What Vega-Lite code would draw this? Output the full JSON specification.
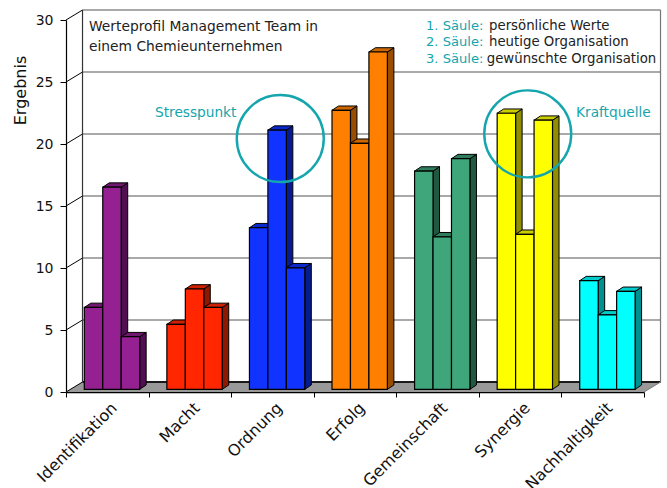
{
"$schema":"https://vega.github.io/schema/vega-lite/v6.json",
"width":578,"height":372,"autosize":"none",
"padding":{"left":66,"top":20,"right":23,"bottom":96},
"background":"white",
"config":{"view":{"stroke":null},"font":"DejaVu Sans","axis":{"grid":false}},
"datasets":{
"saeulen":[
{"kategorie":"Identifikation","saeule":1,"wert":6.6},{"kategorie":"Identifikation","saeule":2,"wert":16.3},{"kategorie":"Identifikation","saeule":3,"wert":4.24},
{"kategorie":"Macht","saeule":1,"wert":5.24},{"kategorie":"Macht","saeule":2,"wert":8.09},{"kategorie":"Macht","saeule":3,"wert":6.6},
{"kategorie":"Ordnung","saeule":1,"wert":13.03},{"kategorie":"Ordnung","saeule":2,"wert":20.9},{"kategorie":"Ordnung","saeule":3,"wert":9.8},
{"kategorie":"Erfolg","saeule":1,"wert":22.5},{"kategorie":"Erfolg","saeule":2,"wert":19.84},{"kategorie":"Erfolg","saeule":3,"wert":27.2},
{"kategorie":"Gemeinschaft","saeule":1,"wert":17.6},{"kategorie":"Gemeinschaft","saeule":2,"wert":12.3},{"kategorie":"Gemeinschaft","saeule":3,"wert":18.6},
{"kategorie":"Synergie","saeule":1,"wert":22.26},{"kategorie":"Synergie","saeule":2,"wert":12.5},{"kategorie":"Synergie","saeule":3,"wert":21.7},
{"kategorie":"Nachhaltigkeit","saeule":1,"wert":8.76},{"kategorie":"Nachhaltigkeit","saeule":2,"wert":6.0},{"kategorie":"Nachhaltigkeit","saeule":3,"wert":7.9}
],
"gitter":[{"g":0},{"g":5},{"g":10},{"g":15},{"g":20},{"g":25},{"g":30}],
"titel":[
{"x":0.279,"y":29.44,"t":"Werteprofil Management Team in"},
{"x":0.279,"y":27.82,"t":"einem Chemieunternehmen"}
],
"schwarz":[
{"x":5.123,"y":29.5,"t":"persönliche Werte"},
{"x":5.123,"y":28.2,"t":"heutige Organisation"},
{"x":5.095,"y":26.85,"t":"gewünschte Organisation"}
],
"tuerkis":[
{"x":4.36,"y":29.5,"t":"1. Säule:"},
{"x":4.36,"y":28.2,"t":"2. Säule:"},
{"x":4.36,"y":26.85,"t":"3. Säule:"}
],
"hinweise":[
{"x":1.078,"y":22.5,"t":"Stresspunkt"},
{"x":6.177,"y":22.5,"t":"Kraftquelle"}
],
"kreise":[{"x":2.595,"y":20.44},{"x":5.592,"y":20.82}]
},
"layer":[
{"data":{"values":[{"t":0},{"t":1}]},
 "transform":[{"calculate":"datum.t*0.2","as":"x0"},{"calculate":"7+datum.t*0.2","as":"x1"},{"calculate":"datum.t*0.806","as":"yy"}],
 "mark":{"type":"area","orient":"horizontal","fill":"#999999"},
 "encoding":{"y":{"field":"yy","type":"quantitative","scale":{"domain":[0,30]}},"x":{"field":"x0","type":"quantitative","scale":{"domain":[0,7],"nice":false,"zero":false}},"x2":{"field":"x1"}}},
{"data":{"name":"gitter"},
 "transform":[{"calculate":"datum.g+0.806","as":"h"},{"calculate":"0.2","as":"a"},{"calculate":"7.2","as":"b"}],
 "mark":{"type":"rule","stroke":"#555555","strokeWidth":1.2},
 "encoding":{"y":{"field":"h","type":"quantitative","scale":{"domain":[0,30]}},"x":{"field":"a","type":"quantitative","scale":{"domain":[0,7],"nice":false,"zero":false}},"x2":{"field":"b"}}},
{"data":{"values":[{"g":0}]},
 "transform":[{"calculate":"datum.g+0.806","as":"h"},{"calculate":"0.2","as":"a"},{"calculate":"7.2","as":"b"}],
 "mark":{"type":"rule","stroke":"#1a1a1a","strokeWidth":2},
 "encoding":{"y":{"field":"h","type":"quantitative","scale":{"domain":[0,30]}},"x":{"field":"a","type":"quantitative","scale":{"domain":[0,7],"nice":false,"zero":false}},"x2":{"field":"b"}}},
{"data":{"name":"gitter"},
 "transform":[{"calculate":"datum.g+0.806","as":"h"},{"calculate":"0","as":"a"},{"calculate":"0.2","as":"b"}],
 "mark":{"type":"rule","stroke":"#000000","strokeWidth":1},
 "encoding":{"y":{"field":"g","type":"quantitative","scale":{"domain":[0,30]}},"y2":{"field":"h"},"x":{"field":"a","type":"quantitative","scale":{"domain":[0,7],"nice":false,"zero":false}},"x2":{"field":"b"}}},
{"data":{"values":[{"a":0.2,"u":0.806,"o":30.806,"c":"l"},{"a":7.2,"u":0.806,"o":30.806,"c":"r"}]},
 "mark":{"type":"rule","strokeWidth":1.2},
 "encoding":{"y":{"field":"u","type":"quantitative","scale":{"domain":[0,30]}},"y2":{"field":"o"},"x":{"field":"a","type":"quantitative","scale":{"domain":[0,7],"nice":false,"zero":false}},"stroke":{"field":"c","type":"nominal","scale":{"domain":["l","r"],"range":["#333333","#777777"]},"legend":null}}},
{"data":{"values":[{"a":7,"b":7.2,"u":0,"o":0.806}]},
 "mark":{"type":"rule","stroke":"#777777","strokeWidth":1},
 "encoding":{"y":{"field":"u","type":"quantitative","scale":{"domain":[0,30]}},"y2":{"field":"o"},"x":{"field":"a","type":"quantitative","scale":{"domain":[0,7],"nice":false,"zero":false}},"x2":{"field":"b"}}},
{"data":{"name":"saeulen"},
 "transform":[
 {"calculate":"indexof(['Identifikation','Macht','Ordnung','Erfolg','Gemeinschaft','Synergie','Nachhaltigkeit'],datum.kategorie)+0.2216+(datum.saeule-1)*0.2235","as":"x0"},
 {"calculate":"datum.x0+0.2235","as":"x1"},
 {"calculate":"datum.kategorie+datum.saeule","as":"id"},
 {"calculate":"[0,1]","as":"t"},{"flatten":["t"]},
 {"calculate":"datum.x1+datum.t*0.0787","as":"sx"},
 {"calculate":"0.218+datum.wert+datum.t*0.347","as":"oben"},
 {"calculate":"0.218+datum.t*0.347","as":"unten"}],
 "mark":{"type":"area","orient":"vertical","stroke":"#000000","strokeWidth":1},
 "encoding":{"detail":{"field":"id"},"x":{"field":"sx","type":"quantitative","scale":{"domain":[0,7],"nice":false,"zero":false}},"y":{"field":"oben","type":"quantitative","scale":{"domain":[0,30]}},"y2":{"field":"unten"},
 "fill":{"field":"kategorie","type":"nominal","legend":null,"scale":{"domain":["Identifikation","Macht","Ordnung","Erfolg","Gemeinschaft","Synergie","Nachhaltigkeit"],"range":["#4f0f50","#8f1800","#071b90","#994d00","#1f5a40","#8f8f00","#009090"]}}}},
{"data":{"name":"saeulen"},
 "transform":[
 {"calculate":"indexof(['Identifikation','Macht','Ordnung','Erfolg','Gemeinschaft','Synergie','Nachhaltigkeit'],datum.kategorie)+0.2216+(datum.saeule-1)*0.2235","as":"x0"},
 {"calculate":"datum.kategorie+datum.saeule","as":"id"},
 {"calculate":"[0,1]","as":"t"},{"flatten":["t"]},
 {"calculate":"datum.x0+datum.t*0.0787","as":"lx"},
 {"calculate":"datum.lx+0.2235","as":"rx"},
 {"calculate":"0.218+datum.wert+datum.t*0.347","as":"oben"}],
 "mark":{"type":"area","orient":"horizontal","stroke":"#000000","strokeWidth":1},
 "encoding":{"detail":{"field":"id"},"y":{"field":"oben","type":"quantitative","scale":{"domain":[0,30]}},"x":{"field":"lx","type":"quantitative","scale":{"domain":[0,7],"nice":false,"zero":false}},"x2":{"field":"rx"},
 "fill":{"field":"kategorie","type":"nominal","legend":null,"scale":{"domain":["Identifikation","Macht","Ordnung","Erfolg","Gemeinschaft","Synergie","Nachhaltigkeit"],"range":["#701870","#cc2000","#0a28cc","#cc6600","#2f7d5d","#cccc00","#00cccc"]}}}},
{"data":{"name":"saeulen"},
 "transform":[
 {"calculate":"indexof(['Identifikation','Macht','Ordnung','Erfolg','Gemeinschaft','Synergie','Nachhaltigkeit'],datum.kategorie)+0.2216+(datum.saeule-1)*0.2235","as":"x0"},
 {"calculate":"datum.x0+0.2235","as":"x1"},
 {"calculate":"0.218+datum.wert","as":"oben"},
 {"calculate":"0.218","as":"unten"}],
 "mark":{"type":"rect","stroke":"#000000","strokeWidth":1.2},
 "encoding":{"x":{"field":"x0","type":"quantitative","scale":{"domain":[0,7],"nice":false,"zero":false},"axis":{"values":[0,1,2,3,4,5,6,7],"title":null,"grid":false,"domainColor":"#000000","domainWidth":1.5,"tickColor":"#000000","tickSize":5,"labelFontSize":16,"labelColor":"#111111","labelAngle":-45,"labelAlign":"right","labelBaseline":"middle","labelOffset":48,"labelPadding":8,"labelOverlap":false,"labelBound":false,"labelFlush":false,"labelExpr":"['Identifikation','Macht','Ordnung','Erfolg','Gemeinschaft','Synergie','Nachhaltigkeit',''][datum.value]"}},"x2":{"field":"x1"},
 "y":{"field":"oben","type":"quantitative","scale":{"domain":[0,30]},"axis":{"values":[0,5,10,15,20,25,30],"title":"Ergebnis","grid":false,"domainColor":"#000000","domainWidth":1.2,"tickColor":"#000000","tickSize":6,"labelFontSize":14,"labelColor":"#111111","labelPadding":7,"titleFontSize":16,"titleFontWeight":"normal","titleColor":"#111111","titleY":70,"titleX":-38}},"y2":{"field":"unten"},
 "fill":{"field":"kategorie","type":"nominal","legend":null,"scale":{"domain":["Identifikation","Macht","Ordnung","Erfolg","Gemeinschaft","Synergie","Nachhaltigkeit"],"range":["#942092","#ff2600","#1033ff","#ff7f00","#3fa67c","#ffff00","#00ffff"]}}}},
{"data":{"name":"titel"},
 "mark":{"type":"text","align":"left","baseline":"middle","fontSize":13.8,"color":"#222222"},
 "encoding":{"x":{"field":"x","type":"quantitative","scale":{"domain":[0,7],"nice":false,"zero":false}},"y":{"field":"y","type":"quantitative","scale":{"domain":[0,30]}},"text":{"field":"t"}}},
{"data":{"name":"schwarz"},
 "mark":{"type":"text","align":"left","baseline":"middle","fontSize":13.3,"color":"#222222"},
 "encoding":{"x":{"field":"x","type":"quantitative","scale":{"domain":[0,7],"nice":false,"zero":false}},"y":{"field":"y","type":"quantitative","scale":{"domain":[0,30]}},"text":{"field":"t"}}},
{"data":{"name":"tuerkis"},
 "mark":{"type":"text","align":"left","baseline":"middle","fontSize":13.1,"color":"#14a5ad"},
 "encoding":{"x":{"field":"x","type":"quantitative","scale":{"domain":[0,7],"nice":false,"zero":false}},"y":{"field":"y","type":"quantitative","scale":{"domain":[0,30]}},"text":{"field":"t"}}},
{"data":{"name":"hinweise"},
 "mark":{"type":"text","align":"left","baseline":"middle","fontSize":13.7,"color":"#14a5ad"},
 "encoding":{"x":{"field":"x","type":"quantitative","scale":{"domain":[0,7],"nice":false,"zero":false}},"y":{"field":"y","type":"quantitative","scale":{"domain":[0,30]}},"text":{"field":"t"}}},
{"data":{"name":"kreise"},
 "mark":{"type":"point","shape":"circle","filled":false,"size":7569,"stroke":"#14a5ad","strokeWidth":2.4,"opacity":1},
 "encoding":{"x":{"field":"x","type":"quantitative","scale":{"domain":[0,7],"nice":false,"zero":false}},"y":{"field":"y","type":"quantitative","scale":{"domain":[0,30]}}}}
],
"resolve":{"scale":{"fill":"independent","stroke":"independent"}}
}
